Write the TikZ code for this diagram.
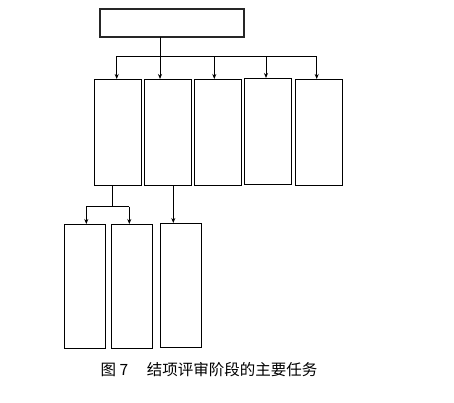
\documentclass[tikz,border=0pt]{standalone}
\usepackage{fontspec}
\newfontfamily\cjk{Noto Sans CJK SC}
\usetikzlibrary{positioning, arrows.meta}

\begin{document}
\begin{tikzpicture}[
    x=1pt, y=-1pt,
    top/.style={rectangle, draw=black!85, line width=1.6pt, minimum width=144pt, minimum height=28pt, inner sep=0pt, outer sep=0pt},
    box/.style={rectangle, draw=black, line width=0.9pt, minimum width=47pt, minimum height=106pt, inner sep=0pt, outer sep=0pt},
    sub/.style={rectangle, draw=black, line width=0.9pt, minimum width=41pt, minimum height=124pt, inner sep=0pt, outer sep=0pt},
    ln/.style={line width=0.9pt, black},
    arr/.style={-{Stealth[length=5pt, width=4pt]}, line width=0.9pt, black}
]
\useasboundingbox (0,0) rectangle (454,402);
% top box
\node[top] (task) at (172,23) {};
% second row
\node[box] (b1) at (117.5,132) {};
\node[box, right=3pt of b1] (b2) {};
\node[box, right=3.5pt of b2] (b3) {};
\node[box, right=3pt of b3, yshift=1pt] (b4) {};
\node[box, right=3.5pt of b4, yshift=-1pt] (b5) {};
% third row
\node[sub] (c1) at (85.3,286) {};
\node[sub, right=5.5pt of c1] (c2) {};
\node[sub, right=8pt of c2, yshift=1pt] (c3) {};
% connectors
\coordinate (bus) at (160,56);
\draw[ln] (task.south -| bus) -- (bus);
\draw[ln] (116.7,56) -- (316.7,56);
\foreach \x/\b in {116.7/b1, 160/b2, 214.3/b3, 266/b4, 316.7/b5}
    \draw[arr] (\x,56) -- (\x,56 |- \b.north);
\coordinate (split) at (112.3,206.7);
\draw[ln] (b1.south -| split) -- (split);
\draw[ln] (86.3,206.7) -- (129.3,206.7);
\foreach \x/\b in {86.3/c1, 129.3/c2}
    \draw[arr] (\x,206.7) -- (\x,206.7 |- \b.north);
\draw[arr] (b2.south -| 173.3,0) -- (c3.north -| 173.3,0);
% caption
\node[font=\cjk\fontsize{15.5}{18}\selectfont] (cap) at (209,370) {图 7\hspace{1.2em}结项评审阶段的主要任务};
\end{tikzpicture}
\end{document}
